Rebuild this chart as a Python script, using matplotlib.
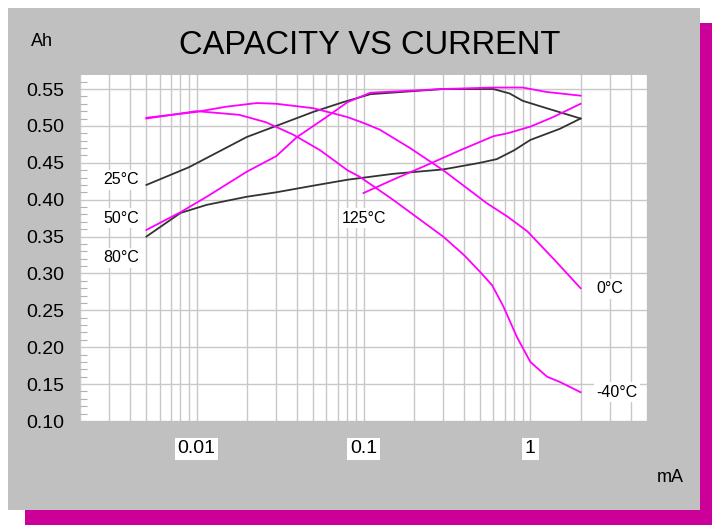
import matplotlib
matplotlib.use("Agg")
import matplotlib.pyplot as plt
from matplotlib.patches import Rectangle
from matplotlib.ticker import LogLocator, MultipleLocator, FixedLocator, NullFormatter

plt.rcParams["font.family"] = ["Liberation Sans", "DejaVu Sans"]

# capacity (Ah) vs discharge current (mA)
x_25 = [0.005, 0.009, 0.02, 0.03, 0.05, 0.075, 0.11, 0.3, 0.6, 0.75, 0.9, 1.25, 2.0]
y_25 = [0.42, 0.444, 0.485, 0.50, 0.519, 0.532, 0.543, 0.55, 0.55, 0.544, 0.534, 0.524, 0.51]

x_80 = [0.005, 0.008, 0.0115, 0.02, 0.03, 0.05, 0.08, 0.15, 0.3, 0.5, 0.63, 0.8, 1.0, 1.5, 2.0]
y_80 = [0.35, 0.382, 0.393, 0.404, 0.41, 0.419, 0.427, 0.435, 0.441, 0.45, 0.455, 0.467, 0.481, 0.496, 0.51]

x_50 = [0.005, 0.008, 0.0115, 0.02, 0.03, 0.04, 0.06, 0.08, 0.11, 0.3, 0.6, 0.9, 1.25, 2.0]
y_50 = [0.359, 0.383, 0.404, 0.438, 0.459, 0.485, 0.512, 0.532, 0.545, 0.55, 0.552, 0.552, 0.546, 0.541]

x_0 = [0.005, 0.01, 0.015, 0.023, 0.03, 0.05, 0.08, 0.1, 0.125, 0.19, 0.3, 0.55, 0.73, 0.96, 1.4, 2.0]
y_0 = [0.511, 0.519, 0.526, 0.531, 0.53, 0.524, 0.512, 0.504, 0.495, 0.47, 0.44, 0.395, 0.377, 0.357, 0.318, 0.28]

x_m40 = [0.005, 0.01, 0.018, 0.026, 0.038, 0.055, 0.08, 0.095, 0.15, 0.3, 0.4, 0.5, 0.59, 0.69, 0.83, 1.0, 1.26, 1.5, 2.0]
y_m40 = [0.51, 0.52, 0.515, 0.505, 0.488, 0.467, 0.44, 0.431, 0.40, 0.35, 0.325, 0.302, 0.284, 0.255, 0.214, 0.18, 0.16, 0.153, 0.139]

x_125 = [0.1, 0.15, 0.24, 0.38, 0.6, 0.73, 1.0, 1.37, 2.0]
y_125 = [0.409, 0.427, 0.447, 0.467, 0.486, 0.49, 0.499, 0.512, 0.53]

x_ticks = [0.01, 0.1, 1]
x_tick_labels = ["0.01", "0.1", "1"]
y_ticks = [0.10, 0.15, 0.20, 0.25, 0.30, 0.35, 0.40, 0.45, 0.50, 0.55]

BLACK = "#333333"
MAGENTA = "#ff00ff"
SHADOW = "#cc0099"
PANEL = "#c0c0c0"

fig = plt.figure(figsize=(7.12, 5.25), dpi=100)
W, H = 712, 525

def px_rect(x0, y0, x1, y1, color):
    fig.add_artist(Rectangle((x0 / W, 1 - y1 / H), (x1 - x0) / W, (y1 - y0) / H,
                             transform=fig.transFigure, facecolor=color,
                             edgecolor="none", zorder=-10))

# shadow and panel
px_rect(700, 23, 712, 525, SHADOW)
px_rect(25, 510, 712, 525, SHADOW)
px_rect(8, 8, 700, 510, PANEL)

ax = fig.add_axes([80 / W, 1 - 421 / H, (647 - 80) / W, (421 - 75) / H])
ax.set_facecolor("white")

ax.plot(x_25, y_25, color=BLACK, lw=1.3)
ax.plot(x_80, y_80, color=BLACK, lw=1.3)
ax.plot(x_50, y_50, color=MAGENTA, lw=1.3)
ax.plot(x_0, y_0, color=MAGENTA, lw=1.3)
ax.plot(x_m40, y_m40, color=MAGENTA, lw=1.3)
ax.plot(x_125, y_125, color=MAGENTA, lw=1.3)

ax.set_xscale("log")
ax.set_xlim(0.002, 5)
ax.set_ylim(0.10, 0.569)

ax.xaxis.set_major_locator(FixedLocator(x_ticks))
ax.set_xticklabels(x_tick_labels)
ax.xaxis.set_minor_locator(LogLocator(base=10, subs=range(2, 10)))
ax.xaxis.set_minor_formatter(NullFormatter())
ax.yaxis.set_major_locator(FixedLocator(y_ticks))
ax.set_yticklabels([f"{v:.2f}" for v in y_ticks])
ax.yaxis.set_minor_locator(MultipleLocator(0.01))

ax.grid(True, which="both", axis="x", color="#c8c8c8", lw=1)
ax.grid(True, which="major", axis="y", color="#c8c8c8", lw=1)
ax.set_axisbelow(True)

ax.tick_params(axis="x", which="both", length=0, labelsize=14, pad=14)
ax.tick_params(axis="y", which="major", length=0, labelsize=14, pad=11)
ax.tick_params(axis="y", which="minor", direction="in", length=5, color="#b0b0b0", width=0.8)
for lbl in ax.get_xticklabels():
    lbl.set_bbox(dict(facecolor="white", edgecolor="none", pad=2))

for s in ax.spines.values():
    s.set_visible(False)

box = dict(facecolor="white", edgecolor="none", pad=2)
ax.text(0.0045, 0.427, "25°C", ha="right", va="center", fontsize=11.5, bbox=box)
ax.text(0.0045, 0.375, "50°C", ha="right", va="center", fontsize=11.5, bbox=box)
ax.text(0.0045, 0.321, "80°C", ha="right", va="center", fontsize=11.5, bbox=box)
ax.text(0.1, 0.375, "125°C", ha="center", va="center", fontsize=11.5, bbox=box)
ax.text(3.0, 0.279, "0°C", ha="center", va="center", fontsize=11.5, bbox=box)
ax.text(3.3, 0.139, "-40°C", ha="center", va="center", fontsize=11.5, bbox=box)

fig.text(370 / W, 1 - 45 / H, "CAPACITY VS CURRENT", ha="center", va="center", fontsize=23.5)
fig.text(42 / W, 1 - 42 / H, "Ah", ha="center", va="center", fontsize=13)
fig.text(670 / W, 1 - 478 / H, "mA", ha="center", va="center", fontsize=13)

fig.savefig("out.png", dpi=100)
